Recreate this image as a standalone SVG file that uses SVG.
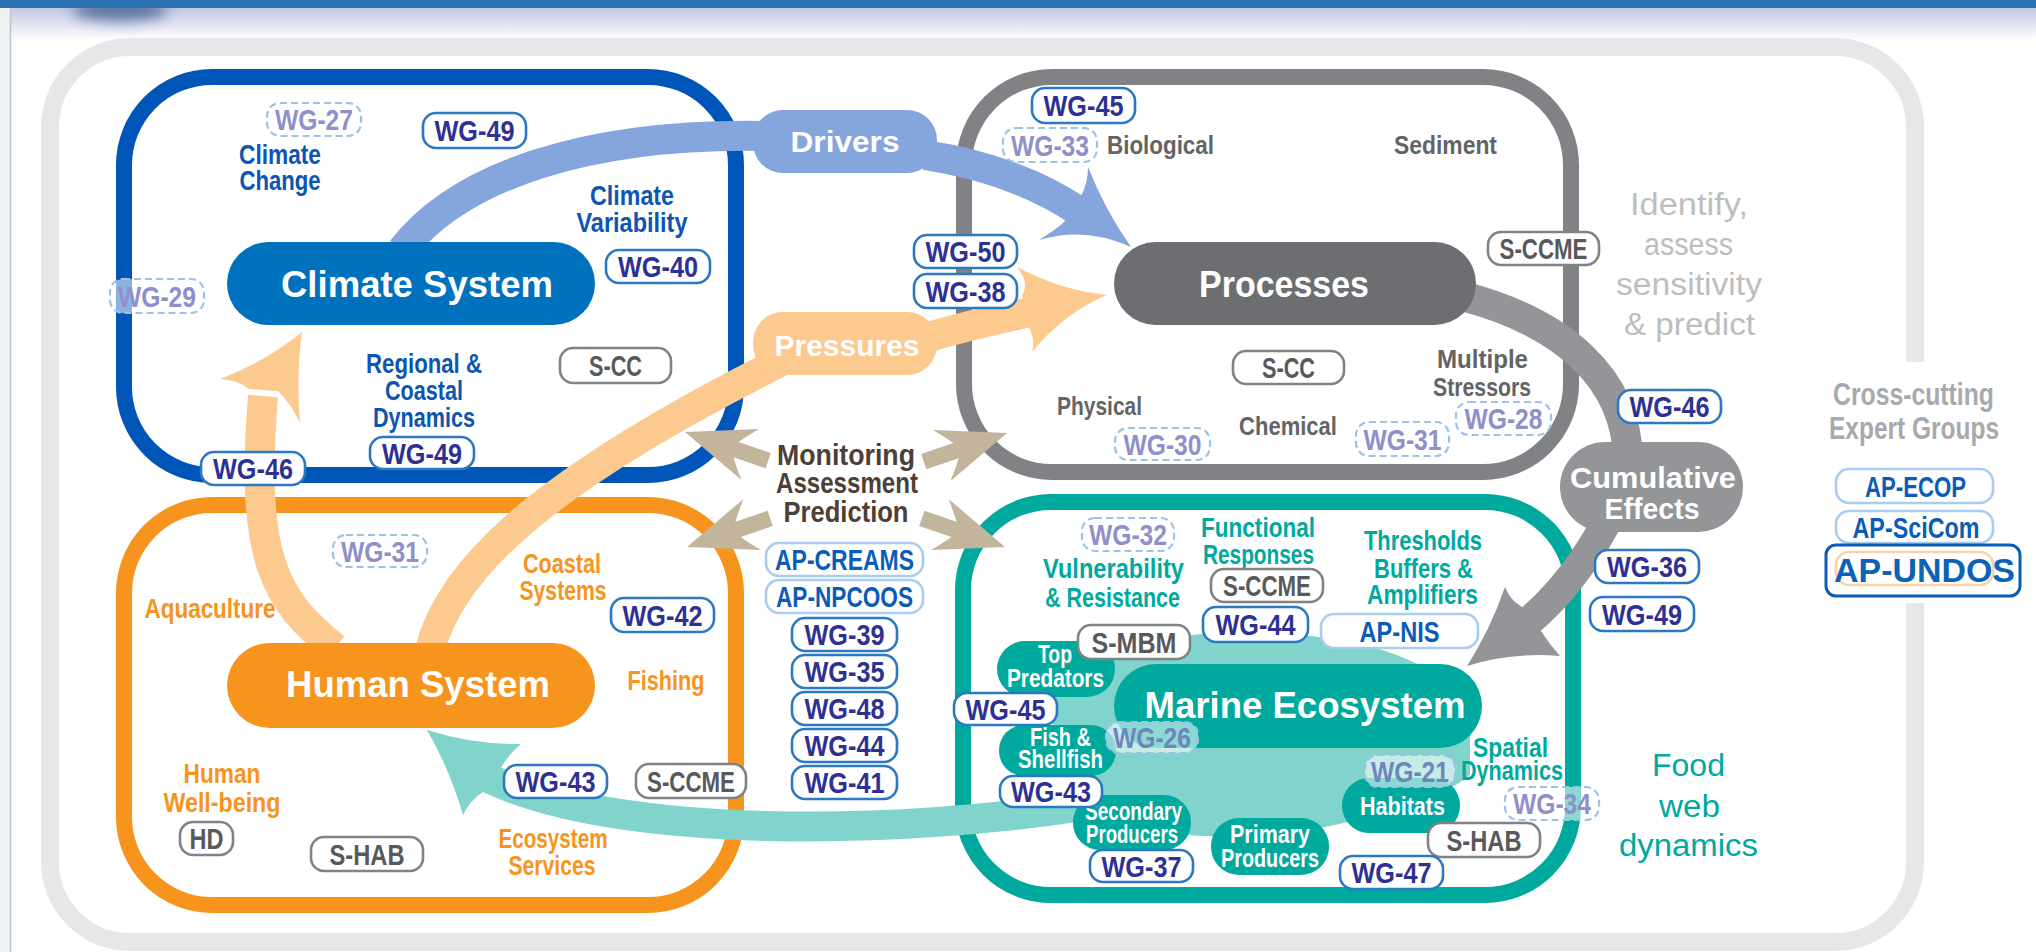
<svg xmlns="http://www.w3.org/2000/svg" width="2036" height="952" viewBox="0 0 2036 952">
<defs>
<linearGradient id="hdr" x1="0" y1="0" x2="0" y2="1">
<stop offset="0" stop-color="#c3c6e4"/><stop offset="1" stop-color="#ffffff"/>
</linearGradient>
<filter id="blur" x="-50%" y="-100%" width="200%" height="300%"><feGaussianBlur stdDeviation="7"/></filter>
<path id="tanArrow" d="M0 0 L69 -27 Q58 -14 54 -8 L88 -8 L88 8 L54 8 Q58 14 69 27 Z"/>
<style>
text{font-family:"Liberation Sans",Arial,sans-serif;font-weight:bold;text-anchor:middle}
.b rect{stroke-width:2.6}
.b text{font-size:30px}
.wg rect{fill:#fff;stroke:#2a79c1}
.wg text{fill:#2e3192}
.dash rect{fill:#fff;fill-opacity:.55;stroke:#9cc3e5;stroke-width:2.2;stroke-dasharray:7 4}
.dash text{fill:#8f90c9}
.sg rect{fill:#fff;stroke:#808285}
.sg text{fill:#58595b}
.ap rect{fill:#fff;stroke:#a9cdef}
.ap text{fill:#0b5cb8}
.frame{fill:#fff;stroke-width:16}
.lb{font-size:28px}
.blue{fill:#0d55b3}
.orange{fill:#f7941d}
.grey{fill:#636466;font-size:26px}
.teal{fill:#00a99d}
.node{fill:#fff;font-size:25px}
.pill{fill:#fff;font-size:36px}
.band{fill:none;stroke-width:30}
.reg{font-weight:normal;font-size:31px}
</style>
</defs>

<!-- background & header -->
<rect x="0" y="0" width="2036" height="952" fill="#fff"/>
<rect x="0" y="8" width="2036" height="32" fill="url(#hdr)"/>
<ellipse cx="120" cy="10" rx="48" ry="11" fill="#2a4e7e" opacity="0.7" filter="url(#blur)"/>
<rect x="0" y="0" width="2036" height="8" fill="#2b74b5"/>
<rect x="0" y="8" width="10" height="944" fill="#eef2f5"/>
<line x1="10.5" y1="8" x2="10.5" y2="952" stroke="#c4c4c4" stroke-width="1.5"/>

<!-- outer frame -->
<g id="outer-frame">
<rect x="50" y="47" width="1865" height="895" rx="80" fill="#fff"/>
<path d="M1915 362 V127 A80 80 0 0 0 1835 47 H130 A80 80 0 0 0 50 127 V862 A80 80 0 0 0 130 942 H1835 A80 80 0 0 0 1915 862 V603" fill="none" stroke="#e6e7e8" stroke-width="18"/>
</g>

<!-- system frames -->
<g id="frames">
<rect id="climate-frame" class="frame" x="124" y="77" width="612" height="398" rx="88" stroke="#0055b8"/>
<rect id="processes-frame" class="frame" x="964" y="77" width="607" height="395" rx="88" stroke="#808285"/>
<rect id="human-frame" class="frame" x="124" y="505" width="612" height="400" rx="88" stroke="#f7941d"/>
<rect id="marine-frame" class="frame" x="963" y="502" width="610" height="393" rx="88" stroke="#00a99d"/>
</g>

<!-- food web background blob -->
<path id="foodweb-blob" d="M1050 712 C1060 660 1160 632 1240 632 C1320 632 1385 645 1425 668 L1470 700 L1470 775 C1440 800 1380 815 1330 826 C1270 838 1200 840 1150 830 C1100 822 1070 790 1060 760 Z" fill="#80d4cc"/>

<!-- connectors -->
<g id="connectors">
<g id="drivers-arrow">
<path class="band" stroke="#85a6dc" d="M402 250 C460 175 590 132 770 136"/>
<path class="band" stroke="#85a6dc" d="M925 155 C990 165 1040 185 1080 212"/>
<path fill="#85a6dc" d="M1131 247 Q1085 226 1039 240 Q1058 228 1064 222 L1080 198 Q1088 184 1088 167 Q1105 210 1131 247 Z"/>
<rect x="753" y="110" width="184" height="63" rx="30" fill="#85a6dc"/>
<text x="845" y="152" font-size="30" fill="#fff" textLength="109" lengthAdjust="spacingAndGlyphs">Drivers</text>
</g>
<g id="pressures-arrow">
<path class="band" stroke="#fcc98f" d="M430 650 C450 570 540 480 800 352"/>
<path class="band" stroke="#fcc98f" d="M925 338 C970 325 1010 316 1045 309"/>
<path fill="#fcc98f" d="M1107 295 Q1060 290 1017 267 Q1030 283 1022 295 L1028 325 Q1036 340 1032 352 Q1065 312 1107 295 Z"/>
<rect x="753" y="312" width="184" height="63" rx="30" fill="#fcc98f"/>
<text x="847" y="356" font-size="30" fill="#fff" textLength="145" lengthAdjust="spacingAndGlyphs">Pressures</text>
</g>
<g id="human-to-climate-arrow">
<path class="band" stroke="#fcc98f" d="M335 648 C275 600 250 560 263 396"/>
<path fill="#fcc98f" d="M302 332 Q265 362 220 379 Q238 380 249 389 L278 391 Q292 405 300 423 Q296 375 302 332 Z"/>
</g>
<g id="cumulative-arrow">
<path class="band" stroke="#939598" d="M1462 296 C1562 322 1627 378 1628 460"/>
<path class="band" stroke="#939598" d="M1605 525 Q1572 585 1528 622"/>
<path fill="#939598" d="M1467 666 Q1490 630 1505 587 Q1510 600 1522 607 L1541 631 Q1550 645 1560 656 Q1510 652 1467 666 Z"/>
<rect x="1560" y="442" width="183" height="90" rx="45" fill="#939598"/>
<text x="1653" y="488" font-size="30" fill="#fff" textLength="166" lengthAdjust="spacingAndGlyphs">Cumulative</text>
<text x="1652" y="519" font-size="30" fill="#fff" textLength="95" lengthAdjust="spacingAndGlyphs">Effects</text>
</g>
<g id="services-arrow">
<path class="band" stroke="#80d4cc" stroke-width="32" d="M1090 805 C900 835 620 840 488 778"/>
<path fill="#80d4cc" d="M427 730 Q475 745 521 744 Q508 755 501 768 L483 792 Q470 800 463 815 Q450 770 427 730 Z"/>
</g>
</g>

<!-- Climate System -->
<g id="climate-system">
<rect x="227" y="242" width="368" height="83" rx="41.5" fill="#0071bc"/>
<text class="pill" x="417" y="297" textLength="272" lengthAdjust="spacingAndGlyphs">Climate System</text>
<text class="lb blue" x="280" y="164" textLength="82" lengthAdjust="spacingAndGlyphs">Climate</text>
<text class="lb blue" x="280" y="190" textLength="81" lengthAdjust="spacingAndGlyphs">Change</text>
<text class="lb blue" x="632" y="205" textLength="84" lengthAdjust="spacingAndGlyphs">Climate</text>
<text class="lb blue" x="632" y="232" textLength="111" lengthAdjust="spacingAndGlyphs">Variability</text>
<text class="lb blue" x="424" y="373" textLength="116" lengthAdjust="spacingAndGlyphs">Regional &amp;</text>
<text class="lb blue" x="424" y="400" textLength="78" lengthAdjust="spacingAndGlyphs">Coastal</text>
<text class="lb blue" x="424" y="427" textLength="102" lengthAdjust="spacingAndGlyphs">Dynamics</text>
<g class="b dash"><rect x="267" y="103" width="94" height="33" rx="13"/><text x="314" y="130" textLength="78" lengthAdjust="spacingAndGlyphs">WG-27</text></g>
<g class="b wg"><rect x="423" y="113" width="103" height="35" rx="13"/><text x="474.5" y="141" textLength="80" lengthAdjust="spacingAndGlyphs">WG-49</text></g>
<g class="b wg"><rect x="606" y="250" width="104" height="33" rx="13"/><text x="658" y="277" textLength="80" lengthAdjust="spacingAndGlyphs">WG-40</text></g>
<g class="b dash"><rect x="110" y="279" width="94" height="34" rx="13"/><text x="157" y="306.5" textLength="78" lengthAdjust="spacingAndGlyphs">WG-29</text></g>
<g class="b sg"><rect x="560" y="348" width="111" height="35" rx="13"/><text x="615.5" y="376" textLength="53" lengthAdjust="spacingAndGlyphs">S-CC</text></g>
<g class="b wg"><rect x="370" y="437" width="104" height="32" rx="13"/><text x="422" y="463.5" textLength="80" lengthAdjust="spacingAndGlyphs">WG-49</text></g>
<g class="b wg"><rect x="201" y="452" width="104" height="33" rx="13"/><text x="253" y="479" textLength="80" lengthAdjust="spacingAndGlyphs">WG-46</text></g>
</g>

<!-- Human System -->
<g id="human-system">
<rect x="227" y="643" width="368" height="85" rx="42.5" fill="#f7941d"/>
<text class="pill" x="418" y="697" textLength="264" lengthAdjust="spacingAndGlyphs">Human System</text>
<text class="lb orange" x="562" y="573" textLength="78" lengthAdjust="spacingAndGlyphs">Coastal</text>
<text class="lb orange" x="563" y="600" textLength="87" lengthAdjust="spacingAndGlyphs">Systems</text>
<text class="lb orange" x="210" y="618" textLength="131" lengthAdjust="spacingAndGlyphs">Aquaculture</text>
<text class="lb orange" x="666" y="690" textLength="77" lengthAdjust="spacingAndGlyphs">Fishing</text>
<text class="lb orange" x="222" y="783" textLength="77" lengthAdjust="spacingAndGlyphs">Human</text>
<text class="lb orange" x="222" y="812" textLength="117" lengthAdjust="spacingAndGlyphs">Well-being</text>
<text class="lb orange" x="553" y="848" textLength="109" lengthAdjust="spacingAndGlyphs">Ecosystem</text>
<text class="lb orange" x="552" y="875" textLength="87" lengthAdjust="spacingAndGlyphs">Services</text>
<g class="b dash"><rect x="333" y="535" width="94" height="32" rx="13"/><text x="380" y="561.5" textLength="78" lengthAdjust="spacingAndGlyphs">WG-31</text></g>
<g class="b wg"><rect x="611" y="598" width="103" height="34" rx="13"/><text x="662.5" y="625.5" textLength="80" lengthAdjust="spacingAndGlyphs">WG-42</text></g>
<g class="b wg"><rect x="504" y="765" width="103" height="33" rx="13"/><text x="555.5" y="792" textLength="80" lengthAdjust="spacingAndGlyphs">WG-43</text></g>
<g class="b sg"><rect x="636" y="764" width="110" height="34" rx="13"/><text x="691" y="791.5" textLength="88" lengthAdjust="spacingAndGlyphs">S-CCME</text></g>
<g class="b sg"><rect x="180" y="822" width="53" height="33" rx="13"/><text x="206.5" y="849" textLength="34" lengthAdjust="spacingAndGlyphs">HD</text></g>
<g class="b sg"><rect x="311" y="837" width="112" height="34" rx="13"/><text x="367" y="864.5" textLength="75" lengthAdjust="spacingAndGlyphs">S-HAB</text></g>
</g>

<!-- Processes -->
<g id="processes">
<rect x="1114" y="242" width="362" height="83" rx="41.5" fill="#6d6e71"/>
<text class="pill" x="1284" y="297" textLength="170" lengthAdjust="spacingAndGlyphs">Processes</text>
<text class="grey" x="1160.5" y="154" textLength="107" lengthAdjust="spacingAndGlyphs">Biological</text>
<text class="grey" x="1445.5" y="154" textLength="103" lengthAdjust="spacingAndGlyphs">Sediment</text>
<text class="grey" x="1099.5" y="415" textLength="85" lengthAdjust="spacingAndGlyphs">Physical</text>
<text class="grey" x="1288" y="435" textLength="98" lengthAdjust="spacingAndGlyphs">Chemical</text>
<text class="grey" x="1482.5" y="368" textLength="91" lengthAdjust="spacingAndGlyphs">Multiple</text>
<text class="grey" x="1482" y="396" textLength="98" lengthAdjust="spacingAndGlyphs">Stressors</text>
<g class="b wg"><rect x="1032" y="88" width="103" height="35" rx="13"/><text x="1083.5" y="116" textLength="80" lengthAdjust="spacingAndGlyphs">WG-45</text></g>
<g class="b dash"><rect x="1003" y="128" width="94" height="34" rx="13"/><text x="1050" y="155.5" textLength="78" lengthAdjust="spacingAndGlyphs">WG-33</text></g>
<g class="b wg"><rect x="914" y="235" width="103" height="33" rx="13"/><text x="965.5" y="262" textLength="80" lengthAdjust="spacingAndGlyphs">WG-50</text></g>
<g class="b wg"><rect x="914" y="274" width="103" height="34" rx="13"/><text x="965.5" y="301.5" textLength="80" lengthAdjust="spacingAndGlyphs">WG-38</text></g>
<g class="b sg"><rect x="1488" y="232" width="111" height="33" rx="13"/><text x="1543.5" y="259" textLength="88" lengthAdjust="spacingAndGlyphs">S-CCME</text></g>
<g class="b sg"><rect x="1233" y="351" width="111" height="33" rx="13"/><text x="1288.5" y="378" textLength="53" lengthAdjust="spacingAndGlyphs">S-CC</text></g>
<g class="b dash"><rect x="1115" y="428" width="95" height="32" rx="13"/><text x="1162.5" y="454.5" textLength="78" lengthAdjust="spacingAndGlyphs">WG-30</text></g>
<g class="b dash"><rect x="1356" y="422" width="93" height="34" rx="13"/><text x="1402.5" y="449.5" textLength="78" lengthAdjust="spacingAndGlyphs">WG-31</text></g>
<g class="b dash"><rect x="1456" y="402" width="95" height="33" rx="13"/><text x="1503.5" y="429" textLength="78" lengthAdjust="spacingAndGlyphs">WG-28</text></g>
</g>

<!-- Marine Ecosystem -->
<g id="marine-ecosystem">
<rect x="1114" y="664" width="368" height="84" rx="42" fill="#00a99d"/>
<text class="pill" x="1305" y="718" textLength="321" lengthAdjust="spacingAndGlyphs">Marine Ecosystem</text>
<g id="top-predators"><rect x="997" y="641" width="118" height="56" rx="28" fill="#00a99d"/>
<text class="node" x="1055" y="663" textLength="34" lengthAdjust="spacingAndGlyphs">Top</text>
<text class="node" x="1055.5" y="687" textLength="97" lengthAdjust="spacingAndGlyphs">Predators</text></g>
<g id="fish-shellfish"><rect x="999" y="725" width="117" height="51" rx="25" fill="#00a99d"/>
<text class="node" x="1060.5" y="746" textLength="61" lengthAdjust="spacingAndGlyphs">Fish &amp;</text>
<text class="node" x="1060.5" y="768" textLength="85" lengthAdjust="spacingAndGlyphs">Shellfish</text></g>
<g id="secondary-producers"><rect x="1073" y="795" width="118" height="55" rx="27" fill="#00a99d"/>
<text class="node" x="1133.5" y="820" textLength="97" lengthAdjust="spacingAndGlyphs">Secondary</text>
<text class="node" x="1132" y="843" textLength="92" lengthAdjust="spacingAndGlyphs">Producers</text></g>
<g id="primary-producers"><rect x="1211" y="818" width="118" height="57" rx="28" fill="#00a99d"/>
<text class="node" x="1270" y="843" textLength="80" lengthAdjust="spacingAndGlyphs">Primary</text>
<text class="node" x="1270" y="867" textLength="98" lengthAdjust="spacingAndGlyphs">Producers</text></g>
<g id="habitats"><rect x="1342" y="778" width="118" height="55" rx="27" fill="#00a99d"/>
<text class="node" x="1402.5" y="815" textLength="85" lengthAdjust="spacingAndGlyphs">Habitats</text></g>
<text class="lb teal" x="1113.5" y="578" textLength="141" lengthAdjust="spacingAndGlyphs">Vulnerability</text>
<text class="lb teal" x="1112.5" y="607" textLength="135" lengthAdjust="spacingAndGlyphs">&amp; Resistance</text>
<text class="lb teal" x="1258" y="537" textLength="114" lengthAdjust="spacingAndGlyphs">Functional</text>
<text class="lb teal" x="1258.5" y="564" textLength="111" lengthAdjust="spacingAndGlyphs">Responses</text>
<text class="lb teal" x="1423" y="550" textLength="118" lengthAdjust="spacingAndGlyphs">Thresholds</text>
<text class="lb teal" x="1423.5" y="578" textLength="99" lengthAdjust="spacingAndGlyphs">Buffers &amp;</text>
<text class="lb teal" x="1422.5" y="604" textLength="111" lengthAdjust="spacingAndGlyphs">Amplifiers</text>
<text class="lb teal" x="1510.5" y="757" textLength="75" lengthAdjust="spacingAndGlyphs">Spatial</text>
<text class="lb teal" x="1512" y="780" textLength="102" lengthAdjust="spacingAndGlyphs">Dynamics</text>
<g class="b dash"><rect x="1082" y="518" width="92" height="33" rx="13"/><text x="1128" y="545" textLength="78" lengthAdjust="spacingAndGlyphs">WG-32</text></g>
<g class="b sg"><rect x="1211" y="569" width="112" height="33" rx="13"/><text x="1267" y="596" textLength="88" lengthAdjust="spacingAndGlyphs">S-CCME</text></g>
<g class="b wg"><rect x="1203" y="607" width="105" height="35" rx="13"/><text x="1255.5" y="635" textLength="80" lengthAdjust="spacingAndGlyphs">WG-44</text></g>
<g class="b ap"><rect x="1321" y="614" width="157" height="34" rx="13"/><text x="1399.5" y="641.5" textLength="80" lengthAdjust="spacingAndGlyphs">AP-NIS</text></g>
<g class="b sg"><rect x="1078" y="625" width="112" height="34" rx="13"/><text x="1134" y="652.5" textLength="85" lengthAdjust="spacingAndGlyphs">S-MBM</text></g>
<g class="b wg"><rect x="954" y="693" width="103" height="32" rx="13"/><text x="1005.5" y="719.5" textLength="80" lengthAdjust="spacingAndGlyphs">WG-45</text></g>
<g class="b dash"><rect x="1106" y="722" width="92" height="31" rx="13"/><text x="1152" y="748" fill="#6f86bd" style="fill:#6f86bd" textLength="78" lengthAdjust="spacingAndGlyphs">WG-26</text></g>
<g class="b wg"><rect x="1000" y="776" width="102" height="31" rx="13"/><text x="1051" y="802" textLength="80" lengthAdjust="spacingAndGlyphs">WG-43</text></g>
<g class="b wg"><rect x="1090" y="850" width="103" height="32" rx="13"/><text x="1141.5" y="876.5" textLength="80" lengthAdjust="spacingAndGlyphs">WG-37</text></g>
<g class="b dash"><rect x="1365" y="755" width="90" height="32" rx="13"/><text x="1410" y="781.5" style="fill:#6f86bd" textLength="78" lengthAdjust="spacingAndGlyphs">WG-21</text></g>
<g class="b dash"><rect x="1505" y="787" width="94" height="33" rx="13"/><text x="1552" y="814" textLength="78" lengthAdjust="spacingAndGlyphs">WG-34</text></g>
<g class="b sg"><rect x="1428" y="823" width="112" height="34" rx="13"/><text x="1484" y="850.5" textLength="75" lengthAdjust="spacingAndGlyphs">S-HAB</text></g>
<g class="b wg"><rect x="1340" y="856" width="103" height="33" rx="13"/><text x="1391.5" y="883" textLength="80" lengthAdjust="spacingAndGlyphs">WG-47</text></g>
</g>

<!-- Monitoring Assessment Prediction -->
<g id="monitoring">
<g fill="#c2b59b">
<use href="#tanArrow" transform="translate(685,432) rotate(19)"/>
<use href="#tanArrow" transform="translate(1007,433) rotate(161)"/>
<use href="#tanArrow" transform="translate(687,547) rotate(-19)"/>
<use href="#tanArrow" transform="translate(1005,547) rotate(-161)"/>
</g>
<text x="846" y="465" font-size="29" fill="#4e3f36" textLength="138" lengthAdjust="spacingAndGlyphs">Monitoring</text>
<text x="847" y="493" font-size="29" fill="#4e3f36" textLength="142" lengthAdjust="spacingAndGlyphs">Assessment</text>
<text x="846" y="522" font-size="29" fill="#4e3f36" textLength="125" lengthAdjust="spacingAndGlyphs">Prediction</text>
<g class="b ap"><rect x="766" y="543" width="157" height="33" rx="13"/><text x="844.5" y="570" textLength="139" lengthAdjust="spacingAndGlyphs">AP-CREAMS</text></g>
<g class="b ap"><rect x="766" y="580" width="157" height="33" rx="13"/><text x="844.5" y="607" textLength="137" lengthAdjust="spacingAndGlyphs">AP-NPCOOS</text></g>
<g class="b wg"><rect x="792" y="618" width="105" height="33" rx="13"/><text x="844.5" y="645" textLength="80" lengthAdjust="spacingAndGlyphs">WG-39</text></g>
<g class="b wg"><rect x="792" y="655" width="105" height="33" rx="13"/><text x="844.5" y="682" textLength="80" lengthAdjust="spacingAndGlyphs">WG-35</text></g>
<g class="b wg"><rect x="792" y="692" width="105" height="33" rx="13"/><text x="844.5" y="719" textLength="80" lengthAdjust="spacingAndGlyphs">WG-48</text></g>
<g class="b wg"><rect x="792" y="729" width="105" height="33" rx="13"/><text x="844.5" y="756" textLength="80" lengthAdjust="spacingAndGlyphs">WG-44</text></g>
<g class="b wg"><rect x="792" y="766" width="105" height="33" rx="13"/><text x="844.5" y="793" textLength="80" lengthAdjust="spacingAndGlyphs">WG-41</text></g>
</g>

<!-- right side -->
<g id="identify">
<text class="reg" x="1689" y="215" fill="#bcbec0" textLength="118" lengthAdjust="spacingAndGlyphs">Identify,</text>
<text class="reg" x="1688.5" y="255" fill="#bcbec0" textLength="89" lengthAdjust="spacingAndGlyphs">assess</text>
<text class="reg" x="1689" y="295" fill="#bcbec0" textLength="146" lengthAdjust="spacingAndGlyphs">sensitivity</text>
<text class="reg" x="1689.5" y="335" fill="#bcbec0" textLength="131" lengthAdjust="spacingAndGlyphs">&amp; predict</text>
</g>
<g id="cumulative-wgs">
<g class="b wg"><rect x="1618" y="390" width="103" height="33" rx="13"/><text x="1669.5" y="417" textLength="80" lengthAdjust="spacingAndGlyphs">WG-46</text></g>
<g class="b wg"><rect x="1595" y="550" width="104" height="33" rx="13"/><text x="1647" y="577" textLength="80" lengthAdjust="spacingAndGlyphs">WG-36</text></g>
<g class="b wg"><rect x="1590" y="597" width="104" height="34" rx="13"/><text x="1642" y="624.5" textLength="80" lengthAdjust="spacingAndGlyphs">WG-49</text></g>
</g>
<g id="food-web">
<text class="reg" x="1688.5" y="776" fill="#00a99d" textLength="73" lengthAdjust="spacingAndGlyphs">Food</text>
<text class="reg" x="1689.5" y="817" fill="#00a99d" textLength="61" lengthAdjust="spacingAndGlyphs">web</text>
<text class="reg" x="1688.5" y="856" fill="#00a99d" textLength="139" lengthAdjust="spacingAndGlyphs">dynamics</text>
</g>
<g id="cross-cutting">
<text x="1913.5" y="405" font-size="31" fill="#a7a9ac" textLength="161" lengthAdjust="spacingAndGlyphs">Cross-cutting</text>
<text x="1914" y="439" font-size="31" fill="#a7a9ac" textLength="170" lengthAdjust="spacingAndGlyphs">Expert Groups</text>
<g class="b ap"><rect x="1836" y="469" width="157" height="34" rx="13"/><text x="1915.5" y="496.5" textLength="101" lengthAdjust="spacingAndGlyphs">AP-ECOP</text></g>
<g class="b ap"><rect x="1836" y="511" width="157" height="32" rx="13"/><text x="1916" y="537.5" textLength="127" lengthAdjust="spacingAndGlyphs">AP-SciCom</text></g>
<g id="ap-undos">
<rect x="1826" y="545" width="194" height="51" rx="10" fill="#fff" stroke="#0b5cb8" stroke-width="3"/>
<rect x="1836" y="552" width="157" height="33" rx="13" fill="#fff" stroke="#fbd3a6" stroke-width="2.6"/>
<text x="1924.5" y="582" font-size="34" fill="#0b63b8" textLength="181" lengthAdjust="spacingAndGlyphs">AP-UNDOS</text>
</g>
</g>
</svg>
